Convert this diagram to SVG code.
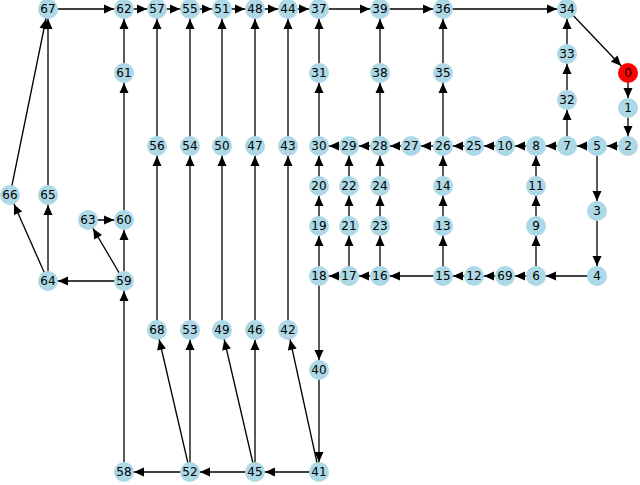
<svg xmlns="http://www.w3.org/2000/svg" width="640" height="485" viewBox="0 0 640 485">
<style>
.e line{stroke:#000;stroke-width:1.3;marker-end:url(#a)}
.n circle{fill:#add8e6}
.n text{font-family:"DejaVu Sans",sans-serif;font-size:12px;text-anchor:middle;dominant-baseline:central;fill:#000}
</style>
<defs><marker id="a" markerUnits="userSpaceOnUse" viewBox="-12 -5 24 10" markerWidth="24" markerHeight="10" refX="10" refY="0" orient="auto"><path d="M-10,-4.5 L0,0 L-10,4.5 Z" fill="#000"/></marker></defs>
<g class="e" id="connectors">
<line x1="48" y1="9" x2="124" y2="9"/><line x1="124" y1="9" x2="157" y2="9"/><line x1="157" y1="9" x2="190" y2="9"/><line x1="190" y1="9" x2="222" y2="9"/><line x1="222" y1="9" x2="255" y2="9"/><line x1="255" y1="9" x2="288" y2="9"/><line x1="288" y1="9" x2="319" y2="9"/><line x1="319" y1="9" x2="380" y2="9"/><line x1="380" y1="9" x2="443" y2="9"/><line x1="443" y1="9" x2="567" y2="9"/>
<line x1="567" y1="9" x2="628" y2="73"/><line x1="628" y1="73" x2="628" y2="108"/><line x1="628" y1="108" x2="628" y2="146"/><line x1="628" y1="146" x2="597" y2="146"/><line x1="597" y1="146" x2="567" y2="146"/><line x1="567" y1="146" x2="536" y2="146"/><line x1="536" y1="146" x2="505" y2="146"/><line x1="505" y1="146" x2="474" y2="146"/><line x1="474" y1="146" x2="443" y2="146"/><line x1="443" y1="146" x2="411" y2="146"/><line x1="411" y1="146" x2="380" y2="146"/><line x1="380" y1="146" x2="349" y2="146"/><line x1="349" y1="146" x2="319" y2="146"/>
<line x1="319" y1="146" x2="319" y2="73"/><line x1="319" y1="73" x2="319" y2="9"/><line x1="380" y1="146" x2="380" y2="73"/><line x1="380" y1="73" x2="380" y2="9"/><line x1="443" y1="146" x2="443" y2="73"/><line x1="443" y1="73" x2="443" y2="9"/>
<line x1="567" y1="146" x2="567" y2="100"/><line x1="567" y1="100" x2="567" y2="54"/><line x1="567" y1="54" x2="567" y2="9"/>
<line x1="597" y1="146" x2="597" y2="211"/><line x1="597" y1="211" x2="597" y2="276"/><line x1="597" y1="276" x2="536" y2="276"/><line x1="536" y1="276" x2="505" y2="276"/><line x1="505" y1="276" x2="474" y2="276"/><line x1="474" y1="276" x2="443" y2="276"/><line x1="443" y1="276" x2="380" y2="276"/><line x1="380" y1="276" x2="349" y2="276"/><line x1="349" y1="276" x2="319" y2="276"/>
<line x1="319" y1="276" x2="319" y2="226"/><line x1="319" y1="226" x2="319" y2="186"/><line x1="319" y1="186" x2="319" y2="146"/>
<line x1="349" y1="276" x2="349" y2="226"/><line x1="349" y1="226" x2="349" y2="186"/><line x1="349" y1="186" x2="349" y2="146"/>
<line x1="380" y1="276" x2="380" y2="226"/><line x1="380" y1="226" x2="380" y2="186"/><line x1="380" y1="186" x2="380" y2="146"/>
<line x1="443" y1="276" x2="443" y2="226"/><line x1="443" y1="226" x2="443" y2="186"/><line x1="443" y1="186" x2="443" y2="146"/>
<line x1="536" y1="276" x2="536" y2="226"/><line x1="536" y1="226" x2="536" y2="186"/><line x1="536" y1="186" x2="536" y2="146"/>
<line x1="319" y1="276" x2="319" y2="370"/><line x1="319" y1="370" x2="319" y2="472"/><line x1="319" y1="472" x2="255" y2="472"/><line x1="255" y1="472" x2="190" y2="472"/><line x1="190" y1="472" x2="124" y2="472"/>
<line x1="124" y1="472" x2="124" y2="281"/><line x1="124" y1="281" x2="124" y2="220"/><line x1="124" y1="281" x2="88" y2="220"/><line x1="88" y1="220" x2="124" y2="220"/><line x1="124" y1="220" x2="124" y2="73"/><line x1="124" y1="73" x2="124" y2="9"/>
<line x1="124" y1="281" x2="48" y2="281"/><line x1="48" y1="281" x2="48" y2="195"/><line x1="48" y1="195" x2="48" y2="9"/><line x1="48" y1="281" x2="10" y2="195"/><line x1="10" y1="195" x2="48" y2="9"/>
<line x1="190" y1="472" x2="157" y2="330"/><line x1="157" y1="330" x2="157" y2="146"/><line x1="157" y1="146" x2="157" y2="9"/>
<line x1="190" y1="472" x2="190" y2="330"/><line x1="190" y1="330" x2="190" y2="146"/><line x1="190" y1="146" x2="190" y2="9"/>
<line x1="255" y1="472" x2="222" y2="330"/><line x1="222" y1="330" x2="222" y2="146"/><line x1="222" y1="146" x2="222" y2="9"/>
<line x1="255" y1="472" x2="255" y2="330"/><line x1="255" y1="330" x2="255" y2="146"/><line x1="255" y1="146" x2="255" y2="9"/>
<line x1="319" y1="472" x2="288" y2="330"/><line x1="288" y1="330" x2="288" y2="146"/><line x1="288" y1="146" x2="288" y2="9"/>
</g>
<g class="n">
<g id="n67"><circle cx="48" cy="9" r="10"/><text x="48" y="9">67</text></g>
<g id="n62"><circle cx="124" cy="9" r="10"/><text x="124" y="9">62</text></g>
<g id="n57"><circle cx="157" cy="9" r="10"/><text x="157" y="9">57</text></g>
<g id="n55"><circle cx="190" cy="9" r="10"/><text x="190" y="9">55</text></g>
<g id="n51"><circle cx="222" cy="9" r="10"/><text x="222" y="9">51</text></g>
<g id="n48"><circle cx="255" cy="9" r="10"/><text x="255" y="9">48</text></g>
<g id="n44"><circle cx="288" cy="9" r="10"/><text x="288" y="9">44</text></g>
<g id="n37"><circle cx="319" cy="9" r="10"/><text x="319" y="9">37</text></g>
<g id="n39"><circle cx="380" cy="9" r="10"/><text x="380" y="9">39</text></g>
<g id="n36"><circle cx="443" cy="9" r="10"/><text x="443" y="9">36</text></g>
<g id="n34"><circle cx="567" cy="9" r="10"/><text x="567" y="9">34</text></g>
<g id="n0"><circle cx="628" cy="73" r="10" style="fill:#ff0000"/><text x="628" y="73">0</text></g>
<g id="n1"><circle cx="628" cy="108" r="10"/><text x="628" y="108">1</text></g>
<g id="n2"><circle cx="628" cy="146" r="10"/><text x="628" y="146">2</text></g>
<g id="n5"><circle cx="597" cy="146" r="10"/><text x="597" y="146">5</text></g>
<g id="n7"><circle cx="567" cy="146" r="10"/><text x="567" y="146">7</text></g>
<g id="n8"><circle cx="536" cy="146" r="10"/><text x="536" y="146">8</text></g>
<g id="n10"><circle cx="505" cy="146" r="10"/><text x="505" y="146">10</text></g>
<g id="n25"><circle cx="474" cy="146" r="10"/><text x="474" y="146">25</text></g>
<g id="n26"><circle cx="443" cy="146" r="10"/><text x="443" y="146">26</text></g>
<g id="n27"><circle cx="411" cy="146" r="10"/><text x="411" y="146">27</text></g>
<g id="n28"><circle cx="380" cy="146" r="10"/><text x="380" y="146">28</text></g>
<g id="n29"><circle cx="349" cy="146" r="10"/><text x="349" y="146">29</text></g>
<g id="n30"><circle cx="319" cy="146" r="10"/><text x="319" y="146">30</text></g>
<g id="n33"><circle cx="567" cy="54" r="10"/><text x="567" y="54">33</text></g>
<g id="n32"><circle cx="567" cy="100" r="10"/><text x="567" y="100">32</text></g>
<g id="n38"><circle cx="380" cy="73" r="10"/><text x="380" y="73">38</text></g>
<g id="n35"><circle cx="443" cy="73" r="10"/><text x="443" y="73">35</text></g>
<g id="n31"><circle cx="319" cy="73" r="10"/><text x="319" y="73">31</text></g>
<g id="n61"><circle cx="124" cy="73" r="10"/><text x="124" y="73">61</text></g>
<g id="n56"><circle cx="157" cy="146" r="10"/><text x="157" y="146">56</text></g>
<g id="n54"><circle cx="190" cy="146" r="10"/><text x="190" y="146">54</text></g>
<g id="n50"><circle cx="222" cy="146" r="10"/><text x="222" y="146">50</text></g>
<g id="n47"><circle cx="255" cy="146" r="10"/><text x="255" y="146">47</text></g>
<g id="n43"><circle cx="288" cy="146" r="10"/><text x="288" y="146">43</text></g>
<g id="n66"><circle cx="10" cy="195" r="10"/><text x="10" y="195">66</text></g>
<g id="n65"><circle cx="48" cy="195" r="10"/><text x="48" y="195">65</text></g>
<g id="n63"><circle cx="88" cy="220" r="10"/><text x="88" y="220">63</text></g>
<g id="n60"><circle cx="124" cy="220" r="10"/><text x="124" y="220">60</text></g>
<g id="n64"><circle cx="48" cy="281" r="10"/><text x="48" y="281">64</text></g>
<g id="n59"><circle cx="124" cy="281" r="10"/><text x="124" y="281">59</text></g>
<g id="n20"><circle cx="319" cy="186" r="10"/><text x="319" y="186">20</text></g>
<g id="n22"><circle cx="349" cy="186" r="10"/><text x="349" y="186">22</text></g>
<g id="n24"><circle cx="380" cy="186" r="10"/><text x="380" y="186">24</text></g>
<g id="n14"><circle cx="443" cy="186" r="10"/><text x="443" y="186">14</text></g>
<g id="n11"><circle cx="536" cy="186" r="10"/><text x="536" y="186">11</text></g>
<g id="n3"><circle cx="597" cy="211" r="10"/><text x="597" y="211">3</text></g>
<g id="n19"><circle cx="319" cy="226" r="10"/><text x="319" y="226">19</text></g>
<g id="n21"><circle cx="349" cy="226" r="10"/><text x="349" y="226">21</text></g>
<g id="n23"><circle cx="380" cy="226" r="10"/><text x="380" y="226">23</text></g>
<g id="n13"><circle cx="443" cy="226" r="10"/><text x="443" y="226">13</text></g>
<g id="n9"><circle cx="536" cy="226" r="10"/><text x="536" y="226">9</text></g>
<g id="n18"><circle cx="319" cy="276" r="10"/><text x="319" y="276">18</text></g>
<g id="n17"><circle cx="349" cy="276" r="10"/><text x="349" y="276">17</text></g>
<g id="n16"><circle cx="380" cy="276" r="10"/><text x="380" y="276">16</text></g>
<g id="n15"><circle cx="443" cy="276" r="10"/><text x="443" y="276">15</text></g>
<g id="n12"><circle cx="474" cy="276" r="10"/><text x="474" y="276">12</text></g>
<g id="n69"><circle cx="505" cy="276" r="10"/><text x="505" y="276">69</text></g>
<g id="n6"><circle cx="536" cy="276" r="10"/><text x="536" y="276">6</text></g>
<g id="n4"><circle cx="597" cy="276" r="10"/><text x="597" y="276">4</text></g>
<g id="n68"><circle cx="157" cy="330" r="10"/><text x="157" y="330">68</text></g>
<g id="n53"><circle cx="190" cy="330" r="10"/><text x="190" y="330">53</text></g>
<g id="n49"><circle cx="222" cy="330" r="10"/><text x="222" y="330">49</text></g>
<g id="n46"><circle cx="255" cy="330" r="10"/><text x="255" y="330">46</text></g>
<g id="n42"><circle cx="288" cy="330" r="10"/><text x="288" y="330">42</text></g>
<g id="n40"><circle cx="319" cy="370" r="10"/><text x="319" y="370">40</text></g>
<g id="n58"><circle cx="124" cy="472" r="10"/><text x="124" y="472">58</text></g>
<g id="n52"><circle cx="190" cy="472" r="10"/><text x="190" y="472">52</text></g>
<g id="n45"><circle cx="255" cy="472" r="10"/><text x="255" y="472">45</text></g>
<g id="n41"><circle cx="319" cy="472" r="10"/><text x="319" y="472">41</text></g>
</g>
</svg>
